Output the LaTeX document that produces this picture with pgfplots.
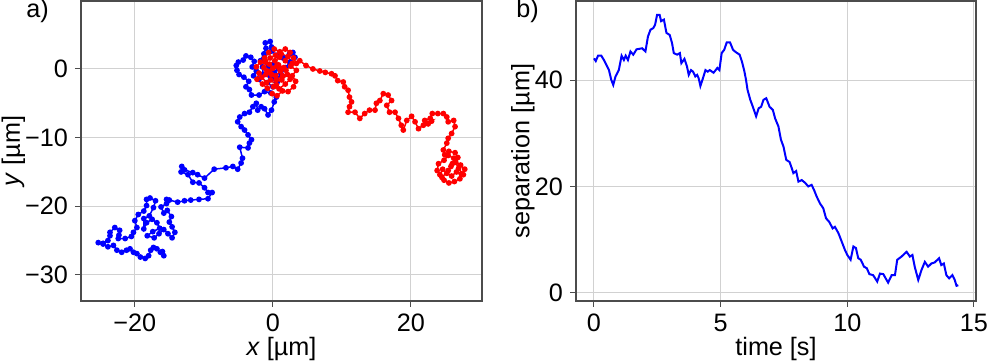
\documentclass[border=0pt]{standalone}
\usepackage{fontspec}
\setmainfont{Liberation Sans}
\usepackage{pgfplots}
\pgfplotsset{compat=1.18}
\begin{document}
\begin{tikzpicture}[font=\fontsize{12.6}{15}\selectfont]
\pgfplotsset{
  myax/.style={
    width=200.5pt, height=150pt, scale only axis,
    axis line style={black!70, line width=0.6pt},
    grid=major, major grid style={black!18, line width=0.5pt},
    tick align=outside, tick pos=left,
    major tick length=3pt, tick style={black!70, line width=0.5pt},
    every tick label/.append style={font=\fontsize{12.6}{15}\selectfont},
    label style={font=\fontsize{12.6}{15}\selectfont},
    xlabel style={at={(axis description cs:0.5,0)}, anchor=center, yshift=-24.2pt},
  }
}
\path[use as bounding box] (-40.5pt,-30.5pt) rectangle (453.5pt,150.5pt);
\begin{axis}[myax, at={(0pt,0pt)}, anchor=south west,
  xmin=-27.8, xmax=30.3, ymin=-33.8, ymax=9.9,
  xtick={-20,0,20}, xticklabels={−20,0,20},
  ytick={-30,-20,-10,0}, yticklabels={−30,−20,−10,0},
  ylabel style={at={(axis description cs:-0.1688,0.5)}, anchor=center},
  xlabel={\textit{x} [µm]}, ylabel={\textit{y} [µm]}]
\addplot[blue, line width=0.75pt, mark=*, mark size=1.05pt] coordinates {
(-15.8,-27.2) (-16.0,-26.6) (-16.3,-26.7) (-16.8,-26.2) (-17.3,-26.0) (-17.7,-26.4) (-18.0,-27.2) (-18.5,-27.6) (-19.2,-27.4) (-19.7,-26.9) (-20.2,-26.7) (-20.7,-26.2) (-21.2,-26.4) (-21.9,-26.7) (-22.6,-26.4) (-23.1,-25.7) (-23.9,-25.9) (-24.6,-25.5) (-25.3,-25.3) (-24.6,-25.4) (-23.9,-25.0) (-23.6,-24.3) (-23.6,-23.8) (-22.9,-23.1) (-22.2,-23.5) (-22.3,-24.2) (-22.4,-24.7) (-21.4,-24.7) (-20.5,-24.4) (-20.2,-23.8) (-19.7,-23.1) (-20.0,-22.1) (-19.5,-21.2) (-18.7,-20.7) (-18.3,-19.9) (-18.3,-19.0) (-17.8,-18.8) (-17.0,-19.2) (-17.3,-20.2) (-17.9,-21.4) (-18.7,-21.8) (-18.7,-23.3) (-18.3,-22.4) (-17.5,-21.9) (-16.8,-22.4) (-16.4,-23.2) (-17.4,-23.7) (-18.2,-24.3) (-17.2,-24.6) (-16.5,-24.0) (-15.8,-23.4) (-15.2,-24.0) (-14.6,-24.6) (-14.2,-23.8) (-14.6,-23.0) (-15.0,-22.3) (-14.7,-21.5) (-15.3,-20.6) (-15.8,-21.0) (-16.2,-20.1) (-15.4,-19.6) (-15.4,-19.0) (-15.0,-19.1) (-13.8,-19.4) (-12.8,-19.2) (-11.9,-19.1) (-10.7,-19.0) (-9.4,-18.9) (-8.8,-18.0) (-9.4,-18.0) (-9.9,-17.3) (-10.7,-16.6) (-11.6,-16.5) (-12.3,-15.4) (-13.3,-15.0) (-13.2,-14.2) (-12.8,-14.7) (-11.6,-15.1) (-10.9,-15.4) (-9.9,-15.9) (-8.5,-14.6) (-6.8,-14.4) (-5.8,-14.2) (-5.1,-14.6) (-4.6,-13.7) (-4.4,-13.0) (-4.8,-11.4) (-3.6,-11.5) (-3.4,-10.8) (-3.1,-10.3) (-3.6,-9.6) (-4.1,-8.9) (-4.6,-8.4) (-5.1,-7.7) (-4.8,-7.0) (-4.1,-6.5) (-3.4,-6.3) (-2.9,-5.5) (-2.4,-5.0) (-2.2,-6.0) (-1.7,-5.5) (-1.2,-5.8) (-0.7,-6.7) (-0.2,-6.0) (0.2,-4.8) (0.5,-4.1) (-0.3,-3.5) (-1.2,-3.3) (-2.0,-3.8) (-3.1,-3.8) (-3.4,-3.0) (-3.9,-2.6) (-3.5,-1.8) (-4.2,-1.2) (-4.9,-0.8) (-5.2,-0.2) (-5.3,0.5) (-5.0,1.0) (-4.3,1.3) (-3.9,1.9) (-3.2,1.7) (-2.7,1.1) (-3.0,0.3) (-2.4,-0.3) (-2.8,-1.0) (-2.0,-1.5) (-1.4,-0.8) (-1.5,0.3) (-1.8,1.2) (-1.3,2.2) (-1.0,3.0) (-1.1,3.8) (-0.4,4.0) (-0.2,3.2) (-0.2,2.6) (0.6,2.0) (1.5,1.6) (2.4,2.2) (2.9,2.4) (3.2,1.7) (2.5,1.0) (1.8,0.2) (1.2,-0.8) (0.4,-1.5) (-0.4,-1.0) (-0.8,-2.0) (0.0,-2.6) (0.6,-2.0) (0.2,-0.5) (-0.6,0.3) (0.3,0.8) (0.8,0.0)
};
\addplot[red, line width=0.75pt, mark=*, mark size=1.05pt] coordinates {
(25.8,-14.2) (26.5,-13.6) (27.2,-14.0) (27.8,-14.6) (27.3,-15.3) (26.6,-15.0) (25.9,-15.6) (25.2,-15.2) (24.6,-14.6) (24.2,-15.4) (24.8,-16.2) (25.5,-16.6) (26.3,-16.4) (27.1,-16.0) (27.6,-15.4) (26.9,-14.5) (26.2,-13.0) (25.4,-12.6) (24.8,-13.3) (24.0,-13.8) (23.8,-14.8) (24.5,-15.8) (25.4,-14.8) (26.0,-13.8) (26.8,-12.9) (26.4,-12.2) (25.5,-12.0) (24.9,-12.5) (24.7,-11.8) (25.2,-10.8) (25.4,-10.1) (25.9,-9.4) (26.4,-8.4) (26.2,-7.5) (25.4,-7.7) (25.2,-7.0) (24.7,-6.5) (23.9,-6.5) (23.1,-6.5) (22.8,-7.2) (22.0,-7.5) (21.8,-8.2) (22.5,-8.0) (23.0,-7.6) (22.2,-7.9) (21.1,-8.7) (20.6,-7.7) (20.1,-6.9) (19.4,-7.5) (18.9,-8.9) (18.6,-8.2) (18.2,-7.2) (17.7,-6.3) (16.9,-6.3) (16.5,-5.3) (17.2,-4.6) (16.7,-3.8) (16.0,-3.6) (15.5,-4.6) (15.0,-5.0) (14.8,-6.0) (14.0,-6.0) (13.3,-6.5) (12.6,-7.2) (11.9,-6.3) (10.9,-6.3) (11.1,-5.5) (11.4,-4.8) (11.1,-4.1) (10.9,-3.1) (10.4,-2.6) (10.2,-1.9) (9.4,-1.7) (9.0,-1.0) (8.5,-0.7) (7.6,-0.5) (6.8,-0.3) (5.8,0.0) (4.8,0.5) (3.9,1.2) (3.4,0.8) (3.0,1.6) (2.5,2.4) (1.8,2.9) (1.0,2.5) (0.2,2.9) (-0.6,2.4) (-1.2,1.6) (-1.8,1.0) (-2.4,0.3) (-2.0,-0.6) (-2.3,-1.5) (-1.5,-2.2) (-0.8,-2.8) (-0.1,-3.6) (0.6,-3.9) (1.4,-3.2) (2.2,-3.3) (3.0,-2.6) (3.3,-1.8) (2.8,-1.0) (3.4,-0.2) (2.6,0.4) (1.8,1.2) (1.0,1.7) (0.3,1.2) (-0.5,0.7) (-1.3,0.2) (-1.0,-0.8) (-0.3,-1.6) (0.5,-2.3) (1.3,-1.6) (2.1,-0.8) (1.6,0.2) (0.8,0.6) (0.0,0.1) (-0.8,-0.3) (-1.6,-1.2) (-0.9,-2.0) (0.1,-2.6) (0.9,-2.9) (1.8,-2.2) (2.5,-1.5) (1.9,-0.2) (2.8,0.8) (2.2,1.8) (1.2,2.2) (0.4,2.0) (-0.4,1.6) (-1.1,1.0) (-0.5,-0.4) (0.4,-1.0) (1.1,-0.3) (0.6,0.5) (-0.2,-0.8) (0.5,-1.6) (1.4,-1.0) (0.9,0.1)
};
\end{axis}
\begin{axis}[myax, at={(247.5pt,0pt)}, anchor=south west,
  width=200pt,
  xmin=-0.71, xmax=15.08, ymin=-1.56, ymax=54.9,
  xtick={0,5,10,15}, xticklabels={0,5,10,15},
  ytick={0,20,40}, yticklabels={0,20,40},
  ylabel style={at={(axis description cs:-0.133,0.5)}, anchor=center},
  xlabel={time [s]}, ylabel={separation [µm]}]
\addplot[blue, line width=1pt] coordinates {
(0,44.1) (0.07,43.6) (0.16,44.6) (0.29,44.6) (0.39,43.8) (0.52,42.6) (0.59,41.9) (0.68,40.1) (0.76,39.1) (0.85,40.7) (0.98,41.9) (1.09,44.6) (1.18,43.8) (1.25,44.6) (1.34,43.8) (1.44,45.4) (1.55,44.8) (1.68,45.8) (1.90,46.0) (2.03,45.4) (2.13,48.2) (2.23,49.5) (2.34,49.8) (2.41,50.4) (2.49,52.3) (2.59,52.3) (2.65,51.1) (2.76,51.4) (2.86,48.9) (2.99,48.5) (3.08,47.0) (3.15,45.1) (3.28,44.8) (3.39,45.1) (3.45,43.2) (3.57,44.0) (3.67,42.6) (3.74,41.0) (3.83,41.9) (3.91,41.6) (4.00,40.7) (4.07,41.0) (4.13,40.4) (4.20,38.9) (4.29,40.2) (4.40,41.9) (4.49,41.6) (4.57,41.9) (4.72,41.4) (4.87,42.3) (4.95,41.9) (5.04,45.1) (5.14,45.7) (5.24,47.1) (5.37,47.1) (5.49,45.7) (5.62,45.2) (5.75,44.8) (5.84,43.5) (5.93,41.8) (6.00,40.1) (6.06,38.2) (6.17,36.3) (6.27,35.0) (6.40,33.2) (6.50,34.7) (6.60,35.0) (6.69,36.3) (6.80,36.6) (6.93,35.0) (7.06,34.4) (7.15,32.8) (7.28,31.3) (7.38,28.8) (7.48,27.5) (7.59,25.0) (7.72,24.6) (7.81,23.4) (7.87,22.5) (7.98,22.9) (8.07,20.9) (8.20,21.2) (8.33,20.7) (8.46,20.0) (8.59,20.3) (8.69,19.3) (8.79,18.1) (8.92,16.8) (9.05,15.9) (9.16,14.0) (9.29,13.3) (9.42,12.1) (9.51,12.4) (9.65,11.2) (9.78,9.6) (9.91,8.0) (10.00,7.1) (10.13,6.2) (10.24,8.7) (10.34,8.4) (10.43,6.5) (10.53,6.2) (10.66,4.9) (10.77,4.6) (10.87,3.5) (11.02,3.3) (11.18,2.1) (11.29,3.6) (11.42,3.5) (11.55,2.4) (11.61,1.9) (11.75,3.3) (11.88,3.3) (11.97,6.2) (12.14,6.8) (12.34,7.7) (12.47,6.8) (12.57,7.1) (12.66,4.9) (12.80,2.4) (12.93,4.3) (13.06,5.8) (13.19,4.9) (13.32,5.5) (13.45,5.7) (13.62,6.5) (13.71,5.2) (13.81,5.5) (13.91,3.3) (14.02,2.7) (14.15,3.3) (14.24,2.4) (14.31,1.3) (14.38,1.4)
};
\end{axis}
\node[anchor=base west, inner sep=0pt] at (-27.5pt,141.5pt) {a)};
\node[anchor=base west, inner sep=0pt] at (217.5pt,141.5pt) {b)};
\end{tikzpicture}
\end{document}
